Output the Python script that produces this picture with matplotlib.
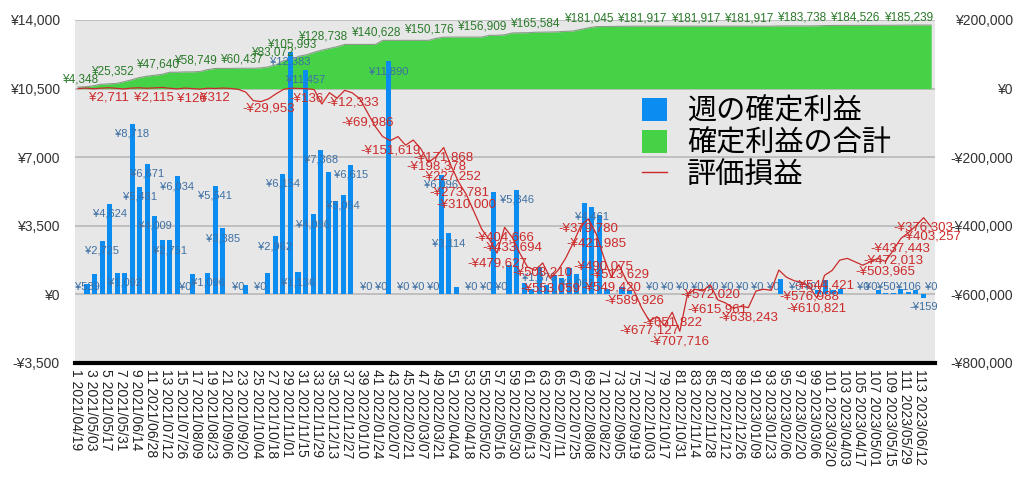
import numpy as np
import pandas as pd
import matplotlib.pyplot as plt
from matplotlib.patches import Patch
from matplotlib.lines import Line2D

plt.rcParams['font.family'] = ['Liberation Sans', 'Noto Sans CJK JP', 'DejaVu Sans']

# 週番号と日付
weeks = np.arange(1, 114)
dates = pd.date_range('2021-04-19', periods=113, freq='7D').strftime('%Y/%m/%d')

# 週の確定利益 (左軸)
weekly = [539, 1050, 2725, 4624, 1090, 1092, 8718, 5481, 6671, 4009,
          2800, 2751, 6034, 0, 1060, 0, 1096, 5541, 3385, 0,
          0, 475, 0, 0, 1100, 2962, 6154, 12383, 1136, 11457,
          4096, 7368, 6250, 4775, 5054, 6615, 0, 0, 0, 0,
          11890, 0, 0, 0, 0, 0, 0, 6096, 3114, 390,
          0, 0, 0, 0, 5200, 0, 1495, 5346, 600, 300,
          1376, 500, 1000, 850, 1350, 1061, 4640, 4461, 4045, 300,
          0, 400, 250, 0, 0, 0, 0, 0, 0, 0,
          0, 0, 0, 0, 0, 0, 0, 0, 0, 0,
          0, 0, 800, 0, 0, 0, 0, 250, 730, 220,
          300, 0, 0, 0, 0, 220, 50, 50, 300, 106,
          250, -159, 0]

# 確定利益の合計 (右軸)
cumulative = [4348, 5398, 8123, 12747, 13837, 14929, 19871, 25352, 32023, 36032,
              38800, 41551, 47585, 47640, 48700, 48700, 49796, 55337, 58749, 58749,
              58749, 59224, 59224, 59224, 60437, 63399, 69553, 81936, 83072, 94529,
              98625, 105993, 112243, 117069, 122123, 128738, 128738, 128738, 128738, 128738,
              140628, 140628, 140628, 140628, 140628, 140628, 140628, 146724, 149838, 150176,
              150176, 150176, 150176, 150176, 155376, 155376, 156909, 162255, 162700, 162900,
              164276, 164500, 165000, 165584, 166934, 167995, 172635, 177096, 180700, 181000,
              181045, 181445, 181695, 181917, 181917, 181917, 181917, 181917, 181917, 181917,
              181917, 181917, 181917, 181917, 181917, 181917, 181917, 181917, 181917, 181917,
              181917, 181917, 182717, 182717, 182717, 182717, 182717, 182967, 183738, 183958,
              184258, 184258, 184258, 184258, 184258, 184526, 184576, 184626, 184926, 185032,
              185282, 185123, 185239]

# 評価損益 (右軸)
unrealized = [0, 1500, -500, 1200, 2711, 800, -1000, 1500, 2500, 1000,
              2115, 3500, 1000, -1000, 1500, 126, -1500, 1000, 312, 1500,
              500, -2000, -10000, -35000, -38000, -29953, -15000, -2000, 1000, 500,
              -136, -3000, -45000, -12000, -28000, -5000, -12333, -30000, -69986, -110000,
              -140000, -151619, -140000, -165000, -150000, -175000, -215000, -198378, -171868, -227252,
              -273781, -310000, -360000, -410000, -440000, -479627, -404666, -433694, -480000, -520000,
              -530000, -508210, -553059, -530000, -495000, -450000, -400000, -379780, -421985, -490075,
              -549420, -513629, -560000, -589926, -640000, -677127, -665000, -690000, -651822, -707716,
              -600000, -585000, -590000, -572020, -615961, -625000, -640000, -635000, -638243, -590000,
              -585000, -588000, -529000, -550000, -560000, -565000, -576988, -610821, -544421, -530000,
              -500000, -495000, -505000, -515000, -505000, -495000, -503965, -472013, -437443, -420000,
              -400000, -376303, -403257]

# ラベルを表示する週
bar_label_weeks = [1, 3, 4, 6, 7, 8, 9, 10, 12, 13, 14, 17, 18, 19, 21, 24, 26, 27, 28, 29,
                   30, 31, 32, 35, 36, 38, 40, 41, 43, 45, 47, 48, 49, 52, 54, 56, 58, 61, 66, 68,
                   76, 78, 80, 82, 84, 86, 88, 90, 92, 95, 97, 104, 105, 107, 110, 112, 113]
cum_label_weeks = [1, 8, 14, 19, 25, 29, 32, 36, 43, 50, 57, 64, 71, 78, 85, 92, 99, 106, 113]
pl_label_weeks = [5, 11, 16, 19, 26, 31, 37, 39, 42, 48, 49, 50, 51, 52, 56, 57, 58, 62, 63, 68,
                  69, 70, 71, 72, 74, 76, 79, 80, 84, 85, 89, 97, 98, 99, 107, 108, 109, 112, 113]

BLUE = '#0a8cf0'
GREEN = '#46d246'
RED = '#cc2a2a'


def yen(v):
    return ('-' if v < 0 else '') + '¥{:,}'.format(abs(int(v)))


fig = plt.figure(figsize=(10.24, 4.79), dpi=100)
rect = [75 / 1024, 116 / 479, 860 / 1024, 343 / 479]

# 合計 (面) + 背景 + 右軸
axg = fig.add_axes(rect)
axg.set_facecolor('#e7e7e7')
axg.set_xlim(0.6, 113.5)
axg.set_ylim(-800000, 200000)
axg.set_axisbelow(True)
axg.fill_between(weeks, 0, cumulative, color=GREEN, lw=0)
axg.plot(weeks, cumulative, color='#8a9a8a', lw=0.8)
axg.yaxis.tick_right()
axg.set_yticks(np.arange(-800000, 200001, 200000))
axg.set_yticklabels([yen(v) for v in np.arange(-800000, 200001, 200000)],
                    ha='right', fontsize=10, color='#333333')
axg.tick_params(axis='y', length=0, pad=56)
axg.set_xticks([])
axg.grid(axis='y', color='#bcbcbc', lw=1.3)
for s in ['left', 'right', 'top']:
    axg.spines[s].set_visible(False)
axg.spines['bottom'].set_color('black')
axg.spines['bottom'].set_linewidth(3)

# 週の確定利益 (棒)
axb = fig.add_axes(rect)
axb.patch.set_visible(False)
axb.set_xlim(-0.593, 113.53)
axb.set_ylim(-3500, 14000)
axb.bar(weeks, weekly, width=0.68, color=BLUE)
axb.set_yticks(np.arange(-3500, 14001, 3500))
axb.set_yticklabels([yen(v) for v in np.arange(-3500, 14001, 3500)], fontsize=10, color='#333333')
axb.tick_params(axis='y', length=0, pad=11)
tick_weeks = weeks[::2]
axb.set_xticks(tick_weeks - 1.5)
axb.set_xticklabels(['{} {}'.format(w, dates[w - 1]) for w in tick_weeks],
                    rotation=270, fontsize=10, color='#222222', ha='center', va='top')
axb.tick_params(axis='x', length=0, pad=4)
for s in axb.spines.values():
    s.set_visible(False)

px = 17500 / 343
for w in bar_label_weeks:
    v = weekly[w - 1]
    if v >= 0:
        ly = max(v - 10 * px, 7 * px)
    else:
        ly = v - 9 * px
    axb.text(w, ly, yen(v), ha='center', va='center', fontsize=8, color='#3d6fa3')

# 評価損益 (線)
axr = fig.add_axes(rect)
axr.patch.set_visible(False)
axr.set_xlim(0.6, 113.5)
axr.set_ylim(-800000, 200000)
axr.plot(weeks, unrealized, color=RED, lw=0.9)
axr.set_xticks([])
axr.set_yticks([])
for s in axr.spines.values():
    s.set_visible(False)

for w in pl_label_weeks:
    axr.annotate(yen(unrealized[w - 1]), (w, unrealized[w - 1]), xytext=(0, -10),
                 textcoords='offset pixels', ha='center', va='center',
                 fontsize=9.5, color=RED)

for i, w in enumerate(cum_label_weeks):
    axr.annotate(yen(cumulative[w - 1]), (w, cumulative[w - 1]),
                 xytext=(2, 8), textcoords='offset pixels',
                 ha='center' if i == 0 else 'right', va='center',
                 fontsize=8.5, color='#2a7a2a')

handles = [Patch(facecolor=BLUE), Patch(facecolor=GREEN), Line2D([], [], color=RED, lw=1)]
axr.legend(handles, ['週の確定利益', '確定利益の合計', '評価損益'],
           loc='upper left', bbox_to_anchor=(0.659, 0.776), frameon=False,
           prop={'family': ['Noto Sans CJK JP'], 'size': 21},
           handlelength=0.85, handleheight=0.85, handletextpad=0.7,
           labelspacing=0.05, borderpad=0, borderaxespad=0)

fig.savefig('out.png', dpi=100)
